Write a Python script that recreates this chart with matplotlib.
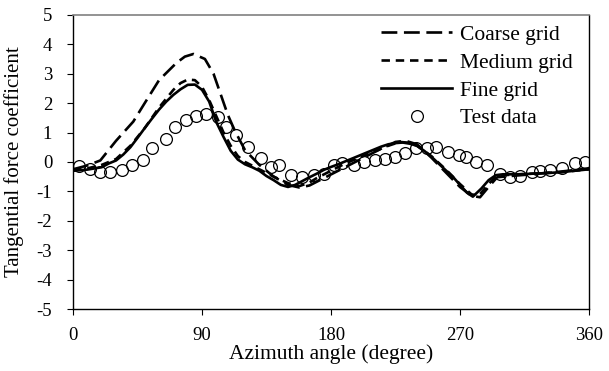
import matplotlib
matplotlib.use('Agg')
import matplotlib.pyplot as plt
import numpy as np

# Coarse grid
coarse_x = [0, 10, 19, 30, 42, 50, 60, 72, 78, 84, 92, 98, 103, 108, 113, 120, 130, 140, 150, 158, 165,
            175, 185, 195, 205, 215, 225, 232, 240, 250, 260, 270, 278, 284, 290, 296, 305, 320, 340, 360]
coarse_y = [-0.25, -0.12, 0.05, 0.72, 1.37, 2.00, 2.78, 3.36, 3.58, 3.67, 3.50, 3.00, 2.30, 1.60, 1.05, 0.40,
            -0.10, -0.50, -0.78, -0.87, -0.80, -0.55, -0.30, -0.05, 0.20, 0.45, 0.68, 0.72, 0.60, 0.15, -0.35,
            -0.85, -1.15, -1.20, -0.85, -0.52, -0.48, -0.42, -0.33, -0.22]

# Medium grid
medium_x = [0, 10, 20, 30, 40, 50, 60, 70, 75, 80, 85, 90, 95, 100, 105, 110, 115, 120, 130, 140, 150, 158,
            165, 170, 180, 190, 200, 210, 220, 228, 235, 240, 250, 260, 270, 278, 283, 290, 295, 300, 320, 340, 360]
medium_y = [-0.28, -0.22, -0.10, 0.10, 0.55, 1.15, 1.85, 2.45, 2.68, 2.80, 2.78, 2.55, 2.10, 1.55, 1.00, 0.55,
            0.20, 0.00, -0.25, -0.50, -0.72, -0.82, -0.70, -0.55, -0.30, -0.05, 0.15, 0.35, 0.55, 0.68, 0.65,
            0.55, 0.20, -0.25, -0.75, -1.10, -1.15, -0.75, -0.50, -0.45, -0.40, -0.35, -0.25]

# Fine grid
fine_x = [0, 10, 20, 25, 30, 35, 40, 45, 50, 55, 60, 65, 70, 75, 80, 85, 90, 95, 100, 105, 110, 115,
          120, 125, 130, 135, 140, 145, 150, 155, 160, 165, 170, 175, 180, 185, 190, 195, 200, 205, 210, 215,
          220, 225, 230, 235, 240, 245, 250, 255, 260, 265, 270, 275, 279, 285, 290, 295, 300, 310, 320, 330,
          340, 350, 360]
fine_y = [-0.30, -0.26, -0.18, -0.05, 0.05, 0.25, 0.50, 0.82, 1.15, 1.47, 1.78, 2.05, 2.28, 2.47, 2.62, 2.63,
          2.45, 2.05, 1.35, 0.85, 0.38, 0.08, -0.08, -0.18, -0.30, -0.48, -0.62, -0.78, -0.85, -0.78,
          -0.65, -0.52, -0.40, -0.27, -0.17, -0.08, 0.02, 0.12, 0.22, 0.32, 0.42, 0.52, 0.60, 0.64, 0.66, 0.62,
          0.55, 0.38, 0.18, -0.05, -0.28, -0.50, -0.78, -1.05, -1.18, -0.90, -0.62, -0.45, -0.42, -0.42, -0.40,
          -0.38, -0.35, -0.30, -0.25]

# Test data
test_x = [4, 12, 19, 26, 34, 41, 49, 55, 65, 71, 79, 86, 93, 101, 107, 114, 122, 131, 138, 144, 152, 160,
          168, 175, 182, 188, 196, 203, 211, 218, 225, 232, 239, 247, 253, 262, 269, 274, 281, 289, 298, 305,
          312, 320, 326, 333, 341, 350, 357]
test_y = [-0.15, -0.24, -0.33, -0.34, -0.27, -0.12, 0.07, 0.47, 0.77, 1.18, 1.42, 1.55, 1.63, 1.52, 1.20,
          0.90, 0.50, 0.12, -0.16, -0.12, -0.44, -0.51, -0.43, -0.40, -0.12, -0.05, -0.12, 0.01, 0.07, 0.09,
          0.18, 0.29, 0.46, 0.46, 0.52, 0.35, 0.24, 0.18, 0.01, -0.10, -0.41, -0.50, -0.48, -0.33, -0.30,
          -0.27, -0.21, -0.04, 0.01]

xticks = [0, 90, 180, 270, 360]
yticks = [-5, -4, -3, -2, -1, 0, 1, 2, 3, 4, 5]

plt.rcParams['font.family'] = ['Liberation Serif', 'DejaVu Serif']
plt.rcParams['axes.unicode_minus'] = False

fig = plt.figure(figsize=(6.09, 3.71), dpi=100)
ax = fig.add_axes([0.12, 0.167, 0.847, 0.793])

ax.plot(coarse_x, coarse_y, color='black', lw=1.9, dashes=(6, 2.5), label='Coarse grid')
ax.plot(medium_x, medium_y, color='black', lw=1.9, dashes=(3.2, 2.2), label='Medium grid')
ax.plot(fine_x, fine_y, color='black', lw=1.9, label='Fine grid')
ax.plot(test_x, test_y, 'o', ms=8.5, mfc='none', mec='black', mew=0.9, label='Test data')

ax.set_xlim(0, 360)
ax.set_ylim(-5, 5)
ax.set_xticks(xticks)
ax.set_yticks(yticks)
ax.tick_params(direction='out', length=4, width=0.8, labelsize=13.5)
ax.tick_params(axis='x', pad=9)
ax.tick_params(axis='y', pad=11)
ax.set_xlabel('Azimuth angle (degree)', fontsize=15.5, labelpad=0)
ax.set_ylabel('Tangential force coefficient', fontsize=15, labelpad=9)

for s in ['left', 'bottom', 'right']:
    ax.spines[s].set_color('black')
    ax.spines[s].set_linewidth(1.0)
ax.spines['top'].set_color('#808080')
ax.spines['top'].set_linewidth(1.2)

ax.legend(loc='upper right', bbox_to_anchor=(0.986, 0.995), frameon=False, handlelength=3.3,
          handletextpad=0.37, labelspacing=0.36, borderaxespad=0, fontsize=15.5)

fig.savefig('out.png', dpi=100)
